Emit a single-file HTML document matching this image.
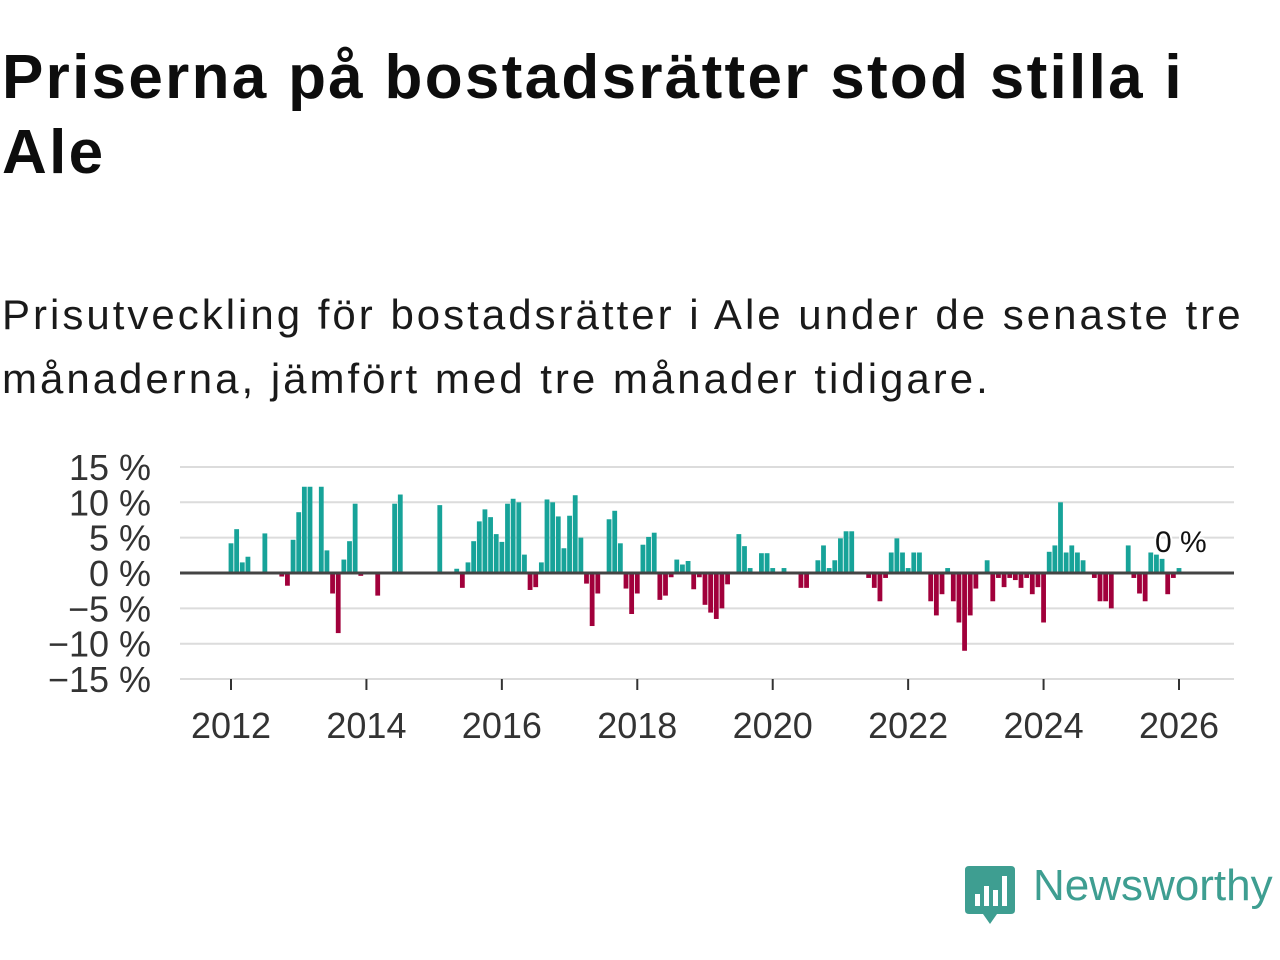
<!DOCTYPE html>
<html><head><meta charset="utf-8"><style>
body{margin:0;width:1280px;height:960px;background:#fff;font-family:"Liberation Sans",sans-serif;position:relative;overflow:hidden;color:#111}
#title{position:absolute;left:2px;top:40px;font-size:62px;letter-spacing:2.3px;font-weight:bold;line-height:75px;margin:0;color:#0d0d0d;white-space:nowrap}
#sub{position:absolute;left:2px;top:283px;font-size:42px;letter-spacing:3px;line-height:64px;margin:0;color:#1a1a1a;white-space:nowrap}
svg{position:absolute;left:0;top:0}
</style></head><body>
<h1 id="title">Priserna på bostadsrätter stod stilla i<br>Ale</h1>
<p id="sub">Prisutveckling för bostadsrätter i Ale under de senaste tre<br>månaderna, jämfört med tre månader tidigare.</p>
<svg id="chart" width="1280" height="960"></svg>
<div style="position:absolute;left:965px;top:866px;">
<svg width="50" height="60" style="position:static"><path d="M0 4 Q0 0 4 0 H46 Q50 0 50 4 V44 Q50 48 46 48 H32 L25 58 L18 48 H4 Q0 48 0 44Z" fill="#3e9e91"/><rect x="10" y="28" width="5" height="12" fill="#fff"/><rect x="19" y="20" width="5" height="20" fill="#fff"/><rect x="28" y="24" width="5" height="16" fill="#fff"/><rect x="37" y="10" width="5" height="30" fill="#fff"/></svg>
<span style="position:absolute;left:68px;top:-5px;font-size:44px;color:#3e9e91;white-space:nowrap">Newsworthy</span></div>
<script>
const yTicks=[15,10,5,0,-5,-10,-15];
const yTickLabels=["15 %","10 %","5 %","0 %","−5 %","−10 %","−15 %"];
const xTicks=[2012,2014,2016,2018,2020,2022,2024,2026];
const barMonthIndex=[0,1,2,3,6,9,10,11,12,13,14,16,17,18,19,20,21,22,23,26,29,30,37,40,41,42,43,44,45,46,47,48,49,50,51,52,53,54,55,56,57,58,59,60,61,62,63,64,65,67,68,69,70,71,72,73,74,75,76,77,78,79,80,81,82,83,84,85,86,87,88,90,91,92,94,95,96,98,101,102,104,105,106,107,108,109,110,113,114,115,116,117,118,119,120,121,122,124,125,126,127,128,129,130,131,132,134,135,136,137,138,139,140,141,142,143,144,145,146,147,148,149,150,151,153,154,155,156,159,160,161,162,163,164,165,166,167,168];
const barValues=[4.2,6.2,1.5,2.3,5.6,-0.5,-1.8,4.7,8.6,12.2,12.2,12.2,3.2,-2.9,-8.5,1.9,4.5,9.8,-0.4,-3.2,9.8,11.1,9.6,0.6,-2.1,1.5,4.5,7.3,9.0,7.9,5.5,4.4,9.8,10.5,10.0,2.6,-2.4,-2.0,1.5,10.4,10.0,8.0,3.5,8.1,11.0,5.0,-1.5,-7.5,-2.9,7.6,8.8,4.2,-2.2,-5.8,-2.9,4.0,5.1,5.7,-3.8,-3.2,-0.6,1.9,1.2,1.7,-2.3,-0.6,-4.5,-5.6,-6.5,-5.0,-1.6,5.5,3.8,0.7,2.8,2.8,0.7,0.7,-2.1,-2.1,1.8,3.9,0.7,1.8,4.9,5.9,5.9,-0.7,-2.1,-4.0,-0.7,2.9,4.9,2.9,0.7,2.9,2.9,-4.0,-6.0,-3.0,0.7,-4.0,-7.0,-11.0,-6.0,-2.2,1.8,-4.0,-0.7,-2.0,-0.7,-1.0,-2.1,-0.7,-3.0,-2.0,-7.0,3.0,3.9,10.0,2.9,3.9,2.9,1.8,-0.7,-4.0,-4.0,-5.0,3.9,-0.7,-2.9,-4.0,2.9,2.6,2.0,-3.0,-0.7,0.7];
const NS="http://www.w3.org/2000/svg",svg=document.getElementById('chart');
const L=180,R=1234;
function y(v){return 573-v*7.07;}
function xm(m){return 231+m*(1179-231)/168;}
function mk(t,a){const e=document.createElementNS(NS,t);for(const k in a)e.setAttribute(k,a[k]);svg.appendChild(e);return e;}
yTicks.forEach((t,i)=>{if(t!==0){const g=mk('line',{x1:L,x2:R,y1:y(t),y2:y(t),stroke:'#dcdcdc','stroke-width':2});

}
const tx=mk('text',{x:151,y:y(t)+13,'text-anchor':'end','font-size':36,fill:'#333','font-family':'Liberation Sans, sans-serif'});tx.textContent=yTickLabels[i];

});
xTicks.forEach(yr=>{const x=xm((yr-2012)*12);const l=mk('line',{x1:x,x2:x,y1:679,y2:690,stroke:'#333','stroke-width':2});


const t=mk('text',{x:x,y:738,'text-anchor':'middle','font-size':36,fill:'#333','font-family':'Liberation Sans, sans-serif'});t.textContent=yr;

});
barValues.forEach((v,i)=>{const x=xm(barMonthIndex[i]);const r=mk('rect',{x:x-2.4,width:4.8,y:v>=0?y(v):y(0),height:Math.abs(y(v)-y(0)),fill:v>=0?'#17a399':'#a1003b'});

});
const z=mk('line',{x1:L,x2:R,y1:y(0),y2:y(0),stroke:'#444','stroke-width':3});


const lb=mk('text',{x:1155,y:552,'font-size':30,fill:'#111','font-family':'Liberation Sans, sans-serif',stroke:'#fff','stroke-width':4,'paint-order':'stroke'});lb.textContent='0 %';


</script>
</body></html>
